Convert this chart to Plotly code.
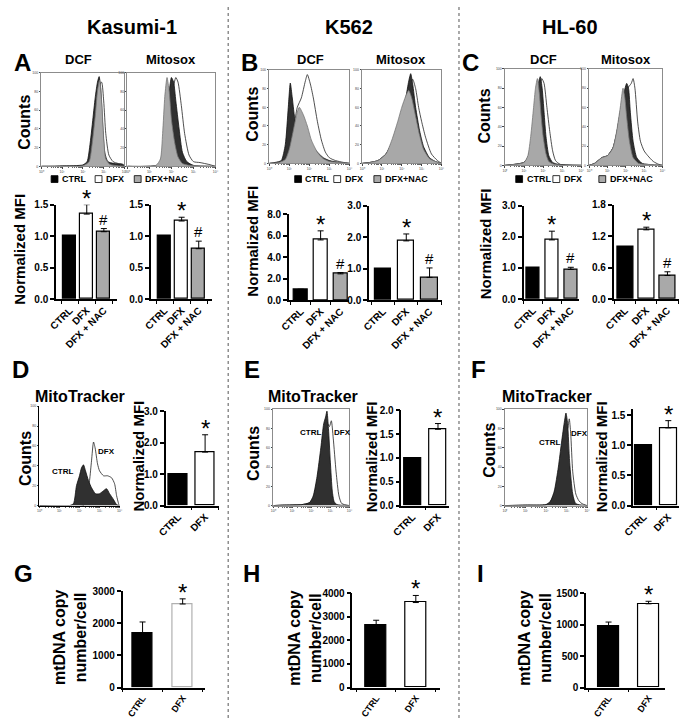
import math
import plotly.graph_objects as go

W, H = 685, 724
FONT = "Arial, 'Liberation Sans', sans-serif"
NARROW = "'Liberation Sans Narrow', 'Arial Narrow', Arial, sans-serif"

# ---------------- data ----------------
cell_lines = ["Kasumi-1", "K562", "HL-60"]
panel_letters = ["A", "B", "C", "D", "E", "F", "G", "H", "I"]
groups3 = ["CTRL", "DFX", "DFX + NAC"]
groups2 = ["CTRL", "DFX"]
legend_labels = ["CTRL", "DFX", "DFX+NAC"]

# normalized MFI (A-C), DCF and Mitosox
a_dcf = [1.0, 1.35, 1.07]
a_dcf_err = [0, 0.15, 0.05]
a_mito = [1.0, 1.24, 0.80]
a_mito_err = [0, 0.06, 0.12]
b_dcf = [1.0, 5.62, 2.45]
b_dcf_err = [0, 0.85, 0.12]
b_mito = [1.0, 1.88, 0.72]
b_mito_err = [0, 0.22, 0.30]
c_dcf = [1.0, 1.90, 0.95]
c_dcf_err = [0, 0.28, 0.07]
c_mito = [1.0, 1.32, 0.45]
c_mito_err = [0, 0.05, 0.07]
sig3 = ["", "*", "#"]

# MitoTracker normalized MFI (D-F)
d_mito = [1.0, 1.70]
d_mito_err = [0, 0.55]
e_mito = [1.0, 1.60]
e_mito_err = [0, 0.12]
f_mito = [1.0, 1.29]
f_mito_err = [0, 0.12]
sig2 = ["", "*"]

# mtDNA copy number/cell (G-I)
g_mtdna = [1680, 2600]
g_mtdna_err = [360, 160]
h_mtdna = [2650, 3600]
h_mtdna_err = [200, 300]
i_mtdna = [980, 1330]
i_mtdna_err = [60, 40]

# flow-cytometry histograms: x = log10 fluorescence, y = % of max counts
a_dcf_ctrl_x = [0, 1.0, 2.0, 2.2, 2.35, 2.5, 2.6, 2.7, 2.78, 2.85, 2.95, 3.05, 3.2, 3.5, 3.9, 4.0]
a_dcf_ctrl_y = [0, 0.5, 1.5, 5, 25, 55, 75, 90, 96, 85, 45, 15, 5, 3, 2, 0]
a_dcf_nac_x = [0, 2.0, 2.3, 2.45, 2.6, 2.7, 2.8, 2.9, 3.0, 3.1, 3.3, 4.0]
a_dcf_nac_y = [0, 0.5, 5, 25, 55, 80, 92, 70, 30, 8, 2, 0]
a_dcf_dfx_x = [0, 2.0, 2.3, 2.5, 2.65, 2.8, 2.9, 3.0, 3.1, 3.25, 3.45, 3.7, 3.95, 4.0]
a_dcf_dfx_y = [0, 0.5, 4, 25, 60, 88, 90, 70, 35, 12, 5, 3, 2, 0]

a_mito_nac_x = [0, 1.3, 1.5, 1.6, 1.7, 1.8, 1.9, 2.0, 2.15, 2.3, 2.5, 2.8, 4.0]
a_mito_nac_y = [0, 1, 8, 35, 75, 95, 80, 50, 25, 10, 3, 1, 0]
a_mito_ctrl_x = [0, 1.4, 1.6, 1.8, 1.9, 2.0, 2.1, 2.2, 2.35, 2.5, 2.7, 3.0, 4.0]
a_mito_ctrl_y = [0, 1, 15, 55, 80, 95, 90, 70, 40, 15, 5, 1, 0]
a_mito_dfx_x = [0, 1.5, 1.7, 1.9, 2.05, 2.2, 2.3, 2.45, 2.6, 2.8, 3.0, 3.3, 3.7, 4.0]
a_mito_dfx_y = [0, 2, 12, 50, 80, 95, 90, 65, 35, 12, 5, 4, 2, 0]

b_dcf_ctrl_x = [0, 0.3, 0.6, 0.8, 0.95, 1.05, 1.15, 1.3, 1.5, 1.8, 2.1, 2.4, 2.7, 3.0, 3.5, 4.0]
b_dcf_ctrl_y = [0, 1, 3, 20, 60, 86, 70, 45, 35, 28, 20, 12, 6, 3, 1, 0]
b_dcf_nac_x = [0, 0.5, 0.8, 1.0, 1.2, 1.4, 1.5, 1.7, 1.9, 2.1, 2.4, 2.7, 3.0, 3.5, 4.0]
b_dcf_nac_y = [0, 1, 4, 15, 35, 55, 60, 52, 40, 25, 12, 5, 2, 1, 0]
b_dcf_dfx_x = [0, 0.5, 0.8, 1.0, 1.2, 1.4, 1.6, 1.8, 1.9, 2.05, 2.2, 2.4, 2.6, 2.8, 3.0, 3.3, 3.7, 4.0]
b_dcf_dfx_y = [0, 1, 4, 12, 35, 60, 70, 88, 95, 85, 70, 45, 25, 12, 6, 3, 1, 0]

b_mito_ctrl_x = [0, 0.4, 0.8, 1.2, 1.5, 1.8, 2.0, 2.2, 2.35, 2.45, 2.55, 2.7, 2.9, 3.1, 3.4, 3.7, 4.0]
b_mito_ctrl_y = [0, 1, 3, 10, 22, 40, 55, 70, 88, 96, 85, 60, 35, 18, 6, 2, 0]
b_mito_nac_x = [0, 0.4, 0.8, 1.2, 1.5, 1.8, 2.0, 2.2, 2.35, 2.5, 2.7, 2.9, 3.1, 3.4, 3.7, 4.0]
b_mito_nac_y = [0, 1, 3, 10, 25, 45, 60, 72, 78, 70, 50, 30, 15, 5, 2, 0]
b_mito_dfx_x = [0, 0.4, 0.8, 1.2, 1.5, 1.8, 2.0, 2.2, 2.4, 2.55, 2.7, 2.85, 3.0, 3.2, 3.5, 3.8, 4.0]
b_mito_dfx_y = [0, 1, 3, 10, 22, 40, 52, 65, 80, 90, 80, 60, 45, 28, 10, 3, 0]

c_dcf_nac_x = [0, 0.5, 1.0, 1.2, 1.35, 1.5, 1.6, 1.7, 1.8, 1.9, 2.0, 2.15, 2.3, 2.6, 4.0]
c_dcf_nac_y = [0, 1, 3, 10, 30, 60, 80, 90, 75, 50, 30, 12, 4, 1, 0]
c_dcf_ctrl_x = [0, 0.5, 1.0, 1.2, 1.4, 1.6, 1.75, 1.85, 1.95, 2.05, 2.15, 2.3, 2.5, 2.8, 4.0]
c_dcf_ctrl_y = [0, 1, 3, 8, 25, 60, 85, 92, 80, 55, 30, 10, 3, 1, 0]
c_dcf_dfx_x = [0, 0.5, 1.0, 1.2, 1.4, 1.6, 1.8, 1.93, 2.05, 2.2, 2.35, 2.5, 2.65, 2.9, 4.0]
c_dcf_dfx_y = [0, 1, 3, 8, 22, 50, 80, 90, 85, 60, 35, 15, 5, 1, 0]

c_mito_nac_x = [0, 0.3, 0.7, 1.0, 1.3, 1.5, 1.7, 1.85, 1.95, 2.05, 2.2, 2.4, 2.7, 3.2, 4.0]
c_mito_nac_y = [0, 2, 8, 10, 18, 35, 60, 80, 70, 50, 25, 8, 2, 1, 0]
c_mito_ctrl_x = [0, 0.3, 0.7, 1.0, 1.3, 1.5, 1.7, 1.9, 2.05, 2.15, 2.25, 2.4, 2.6, 2.9, 4.0]
c_mito_ctrl_y = [0, 2, 8, 10, 18, 33, 55, 75, 85, 80, 55, 25, 8, 2, 0]
c_mito_dfx_x = [0, 0.3, 0.7, 1.0, 1.3, 1.5, 1.7, 1.9, 2.1, 2.3, 2.4, 2.5, 2.65, 2.8, 3.0, 3.2, 3.5, 3.8, 4.0]
c_mito_dfx_y = [0, 2, 8, 10, 18, 33, 55, 72, 80, 85, 90, 80, 45, 25, 15, 10, 4, 1, 0]

d_ctrl_x = [0, 1.5, 1.7, 1.85, 2.0, 2.1, 2.2, 2.3, 2.45, 2.6, 2.8, 3.0, 3.2, 3.35, 3.5, 3.7, 3.85, 4.0]
d_ctrl_y = [0, 0, 2, 20, 30, 38, 41, 35, 25, 18, 12, 12, 15, 17, 12, 6, 1, 0]
d_dfx_x = [0, 2.2, 2.35, 2.5, 2.6, 2.7, 2.78, 2.9, 3.0, 3.2, 3.4, 3.6, 3.75, 3.85, 3.95, 4.0]
d_dfx_y = [0, 0, 8, 25, 45, 64, 58, 42, 35, 30, 30, 28, 22, 10, 2, 0]

e_ctrl_x = [0, 0.5, 1.5, 1.9, 2.1, 2.3, 2.5, 2.65, 2.75, 2.82, 2.9, 3.0, 3.1, 3.2, 3.35, 4.0]
e_ctrl_y = [0, 0.5, 1, 3, 10, 30, 60, 85, 92, 98, 80, 45, 15, 4, 1, 0]
e_dfx_x = [0, 0.5, 1.5, 1.9, 2.1, 2.3, 2.5, 2.7, 2.85, 2.95, 3.05, 3.15, 3.3, 3.45, 3.6, 4.0]
e_dfx_y = [0, 0.5, 1, 3, 8, 25, 50, 75, 85, 82, 88, 70, 35, 10, 2, 0]

f_ctrl_x = [0, 1.0, 2.0, 2.2, 2.4, 2.6, 2.75, 2.9, 2.97, 3.05, 3.15, 3.3, 3.45, 4.0]
f_ctrl_y = [0, 0.5, 1, 4, 15, 40, 65, 88, 96, 85, 45, 12, 2, 0]
f_dfx_x = [0, 1.0, 2.0, 2.2, 2.4, 2.6, 2.8, 2.95, 3.05, 3.13, 3.2, 3.3, 3.45, 3.6, 3.75, 4.0]
f_dfx_y = [0, 0.5, 1, 4, 12, 32, 60, 85, 80, 90, 75, 35, 12, 5, 2, 0]

decade_ticks = [0, 1, 2, 3, 4]
decade_labels = ["10⁰", "10¹", "10²", "10³", "10⁴"]
count_ticks = [0, 20, 40, 60, 80, 100]

# ---------------- styling ----------------
C_CTRL = "#000000"
C_DFX = "#ffffff"
C_NAC = "#a9a9a9"
H_DARK = "#303030"
H_GREY = "#a8a8a8"

fig = go.Figure()
axes = {}
annotations = []
shapes = []
count = [0]


def fx(v):
    return v / W


def fy(v):
    return 1 - v / H


def new_axes(x0, x1, y0, y1, xa, ya):
    count[0] += 1
    n = count[0]
    s = "" if n == 1 else str(n)
    xa = dict(xa, domain=[fx(x0), fx(x1)], anchor="y" + s)
    ya = dict(ya, domain=[fy(y1), fy(y0)], anchor="x" + s)
    axes["xaxis" + s] = xa
    axes["yaxis" + s] = ya
    return "x" + s, "y" + s


def text(x, y, s, size, angle=0, family=FONT, weight="bold", xanchor="center",
         yanchor="middle", color="black"):
    annotations.append(dict(x=fx(x), y=fy(y), xref="paper", yref="paper", text=s,
                            showarrow=False, textangle=angle, xanchor=xanchor,
                            yanchor=yanchor,
                            font=dict(family=family, size=size, color=color, weight=weight)))


minor_vals = [d + math.log10(k) for d in range(4) for k in range(2, 10)]


def hist_panel(x0, x1, y0, y1, curves, box=True):
    lc = "#8c8c8c" if box else "#000000"
    xa = dict(range=[0, 4], showline=True, linecolor=lc, linewidth=1, mirror=box,
              ticks="outside", ticklen=1.5, tickwidth=0.6, tickcolor="#444",
              tickvals=decade_ticks, ticktext=decade_labels,
              tickfont=dict(size=3.5, color="#444", family=FONT),
              minor=dict(tickvals=minor_vals, ticks="outside", ticklen=1,
                         tickwidth=0.5, tickcolor="#666"),
              showgrid=False, zeroline=False, fixedrange=True)
    ya = dict(range=[0, 100], showline=True, linecolor=lc, linewidth=1, mirror=box,
              ticks="outside", ticklen=1.5, tickwidth=0.6, tickcolor="#444",
              tickvals=count_ticks, tickfont=dict(size=3.5, color="#444", family=FONT),
              showgrid=False, zeroline=False, fixedrange=True)
    xn, yn = new_axes(x0, x1, y0, y1, xa, ya)
    for xs, ys, fill, line in curves:
        fig.add_trace(go.Scatter(x=xs, y=ys, mode="lines", fill="tozeroy",
                                 fillcolor=fill, line=dict(color=line, width=0.8,
                                                           shape="spline", smoothing=0.6),
                                 xaxis=xn, yaxis=yn, showlegend=False, hoverinfo="skip"))
    return xn, yn


def bar_panel(x0, x1, y0, y1, cats, vals, errs, colors, ymax, tickvals, fmt, xrange,
              width, sig, line_colors=None, narrow=False, tick_angle=-45, tick_size=11,
              xtick_size=10):
    tfam = NARROW if narrow else FONT
    xa = dict(type="category", range=xrange, showline=True, linecolor="black",
              linewidth=1.5, ticks="outside", tickson="boundaries", ticklen=3,
              tickwidth=1.2, tickcolor="black", tickangle=tick_angle,
              tickfont=dict(family=tfam, size=xtick_size, color="black", weight="bold"),
              showgrid=False, zeroline=False, fixedrange=True)
    ya = dict(range=[0, ymax], showline=True, linecolor="black", linewidth=1.5,
              ticks="outside", ticklen=4, tickwidth=1.5, tickcolor="black",
              tickvals=tickvals, ticktext=[fmt.format(v) for v in tickvals],
              tickfont=dict(family=tfam, size=tick_size, color="black", weight="bold"),
              showgrid=False, zeroline=False, fixedrange=True)
    xn, yn = new_axes(x0, x1, y0, y1, xa, ya)
    lcs = line_colors if line_colors else ["black"] * len(cats)
    fig.add_trace(go.Bar(x=cats, y=vals, width=width,
                         marker=dict(color=colors, line=dict(color=lcs, width=1.2)),
                         error_y=dict(type="data", array=errs, arrayminus=[0] * len(errs),
                                      symmetric=False, color="black", thickness=1, width=3),
                         xaxis=xn, yaxis=yn, showlegend=False, hoverinfo="skip",
                         cliponaxis=False))
    for c, v, e, s in zip(cats, vals, errs, sig):
        if not s:
            continue
        if s == "*":
            annotations.append(dict(x=c, y=v + e, xref=xn, yref=yn, text="*", showarrow=False,
                                    yanchor="bottom", yshift=-9,
                                    font=dict(family=FONT, size=24, color="black")))
        else:
            annotations.append(dict(x=c, y=v + e, xref=xn, yref=yn, text="#", showarrow=False,
                                    yanchor="bottom", yshift=-1,
                                    font=dict(family=FONT, size=15, color="black")))
    return xn, yn


# ---------------- row 1: A, B, C ----------------
hist_panel(30, 115, 68, 163, [
    (a_dcf_dfx_x, a_dcf_dfx_y, C_DFX, "#222"),
    (a_dcf_ctrl_x, a_dcf_ctrl_y, H_DARK, "#111"),
    (a_dcf_nac_x, a_dcf_nac_y, H_GREY, "#777")])
hist_panel(118, 208, 68, 163, [
    (a_mito_dfx_x, a_mito_dfx_y, C_DFX, "#222"),
    (a_mito_ctrl_x, a_mito_ctrl_y, H_DARK, "#111"),
    (a_mito_nac_x, a_mito_nac_y, H_GREY, "#777")])
hist_panel(263, 345, 65, 160, [
    (b_dcf_dfx_x, b_dcf_dfx_y, C_DFX, "#222"),
    (b_dcf_ctrl_x, b_dcf_ctrl_y, H_DARK, "#111"),
    (b_dcf_nac_x, b_dcf_nac_y, H_GREY, "#777")])
hist_panel(358, 439, 65, 160, [
    (b_mito_dfx_x, b_mito_dfx_y, C_DFX, "#222"),
    (b_mito_ctrl_x, b_mito_ctrl_y, H_DARK, "#111"),
    (b_mito_nac_x, b_mito_nac_y, H_GREY, "#777")])
hist_panel(504, 582, 64, 162, [
    (c_dcf_dfx_x, c_dcf_dfx_y, C_DFX, "#222"),
    (c_dcf_ctrl_x, c_dcf_ctrl_y, H_DARK, "#111"),
    (c_dcf_nac_x, c_dcf_nac_y, H_GREY, "#777")])
hist_panel(590, 665, 64, 162, [
    (c_mito_dfx_x, c_mito_dfx_y, C_DFX, "#222"),
    (c_mito_ctrl_x, c_mito_ctrl_y, H_DARK, "#111"),
    (c_mito_nac_x, c_mito_nac_y, H_GREY, "#777")])

cols3 = [C_CTRL, C_DFX, C_NAC]
bar_panel(45, 107, 202, 298, groups3, a_dcf, a_dcf_err, cols3, 1.5, [0, 0.5, 1.0, 1.5],
          "{:.1f}", [-0.8, 2.75], 0.75, sig3, tick_size=10)
bar_panel(142, 204, 202, 298, groups3, a_mito, a_mito_err, cols3, 1.5, [0, 0.5, 1.0, 1.5],
          "{:.1f}", [-0.8, 2.75], 0.75, sig3, tick_size=10)
bar_panel(283, 345, 212, 299, groups3, b_dcf, b_dcf_err, cols3, 8, [0, 2, 4, 6, 8],
          "{:.1f}", [-0.6, 2.45], 0.7, sig3, tick_size=10)
bar_panel(365, 440, 203, 299, groups3, b_mito, b_mito_err, cols3, 3, [0, 1, 2, 3],
          "{:.1f}", [-0.6, 2.55], 0.7, sig3, tick_size=10)
bar_panel(523, 580, 203, 298, groups3, c_dcf, c_dcf_err, cols3, 3, [0, 1, 2, 3],
          "{:.1f}", [-0.5, 2.45], 0.7, sig3, tick_size=10)
bar_panel(615, 682, 202, 298, groups3, c_mito, c_mito_err, cols3, 1.8, [0, 0.6, 1.2, 1.8],
          "{:.1f}", [-0.55, 2.55], 0.75, sig3, tick_size=10)

# ---------------- row 2: D, E, F ----------------
hist_panel(28, 110, 407, 508, [
    (d_dfx_x, d_dfx_y, C_DFX, "#222"),
    (d_ctrl_x, d_ctrl_y, H_DARK, "#111")], box=False)
hist_panel(267, 345, 410, 508, [
    (e_dfx_x, e_dfx_y, C_DFX, "#222"),
    (e_ctrl_x, e_ctrl_y, H_DARK, "#111")])
hist_panel(504, 588, 410, 508, [
    (f_dfx_x, f_dfx_y, C_DFX, "#222"),
    (f_ctrl_x, f_ctrl_y, H_DARK, "#111")])

cols2 = [C_CTRL, C_DFX]
bar_panel(157, 212, 412, 508, groups2, d_mito, d_mito_err, cols2, 3, [0, 1, 2, 3],
          "{:.1f}", [-0.47, 1.53], 0.72, sig2, tick_size=10)
bar_panel(398, 447, 411, 508, groups2, e_mito, e_mito_err, cols2, 2, [0, 0.5, 1.0, 1.5, 2.0],
          "{:.1f}", [-0.44, 1.44], 0.65, sig2, tick_size=10)
bar_panel(635, 682, 410, 508, groups2, f_mito, f_mito_err, cols2, 1.6, [0, 0.5, 1.0, 1.5],
          "{:.1f}", [-0.44, 1.44], 0.7, sig2, tick_size=10)

# ---------------- row 3: G, H, I ----------------
bar_panel(113, 197, 595, 693, groups2, g_mtdna, g_mtdna_err, cols2, 3000,
          [0, 1000, 2000, 3000], "{:d}", [-0.5, 1.55], 0.5, sig2,
          line_colors=["black", "#b0b0b0"], narrow=True, tick_angle=-55, tick_size=10,
          xtick_size=9)
bar_panel(348, 438, 597, 693, groups2, h_mtdna, h_mtdna_err, cols2, 4000,
          [0, 1000, 2000, 3000, 4000], "{:d}", [-0.6, 1.62], 0.52, sig2,
          narrow=True, tick_angle=-55, tick_size=10, xtick_size=9)
bar_panel(587, 668, 597, 693, groups2, i_mtdna, i_mtdna_err, cols2, 1500,
          [0, 500, 1000, 1500], "{:d}", [-0.56, 1.42], 0.54, sig2,
          narrow=True, tick_angle=-55, tick_size=10, xtick_size=9)

# ---------------- texts ----------------
for name, cx in zip(cell_lines, [123, 345, 571]):
    text(cx, 21, name, 20)

for letter, (lx, ly) in zip(panel_letters, [(11, 57), (243, 57), (469, 57),
                                            (9, 370), (245, 370), (477, 370),
                                            (12, 577), (245, 577), (479, 577)]):
    text(lx, ly, letter, 24)

for lbl, cx in [("DCF", 68), ("Mitosox", 163), ("DCF", 305), ("Mitosox", 398),
                ("DCF", 543), ("Mitosox", 628)]:
    text(cx, 54, lbl, 13)

for cx, cy in [(12, 118), (246, 110), (483, 112), (14, 460), (247, 455), (488, 452)]:
    text(cx, cy, "Counts", 16, angle=-90)

for cx, cy in [(8, 247), (245, 239), (485, 242), (129, 458), (367, 458), (603, 458)]:
    text(cx, cy, "Normalized MFI", 15, angle=-90)

for cx in [70, 308, 547]:
    text(cx, 397, "MitoTracker", 16)

for cx in [60, 300, 535]:
    text(cx, 642, "mtDNA copy<br>number/cell", 16, angle=-90)

# CTRL / DFX labels in MitoTracker histograms
for (cxx, cxy), (dxx, dxy) in [((52, 473), (97, 453)), ((305, 434), (338, 434)),
                                ((550, 444), (580, 435))]:
    text(cxx, cxy, "CTRL", 8)
    text(dxx, dxy, "DFX", 8)

# legends under row-1 histograms
legend_pos = [(43, 88, 128), (292, 332, 373), (518, 556, 603)]
fills = [C_CTRL, C_DFX, C_NAC]
LEG_Y = 176
for row in legend_pos:
    for sx, lbl, fc in zip(row, legend_labels, fills):
        shapes.append(dict(type="rect", xref="paper", yref="paper",
                           x0=fx(sx - 3), x1=fx(sx + 4), y0=fy(LEG_Y + 3.5), y1=fy(LEG_Y - 3.5),
                           fillcolor=fc, line=dict(color="black", width=0.8)))
        text(sx + 6, LEG_Y, lbl, 9, xanchor="left")

# dashed separators
for sx in [221, 457]:
    shapes.append(dict(type="line", xref="paper", yref="paper", x0=fx(sx), x1=fx(sx),
                       y0=0, y1=1, line=dict(color="#555", width=1, dash="dot")))

fig.update_layout(width=W, height=H, autosize=False, margin=dict(l=0, r=0, t=0, b=0),
                  paper_bgcolor="white", plot_bgcolor="rgba(0,0,0,0)",
                  annotations=annotations, shapes=shapes, showlegend=False,
                  bargap=0, font=dict(family=FONT), **axes)

fig.write_html("out.html", config={"displayModeBar": False},
               post_script="document.body.style.margin='0';document.body.style.padding='0';")
